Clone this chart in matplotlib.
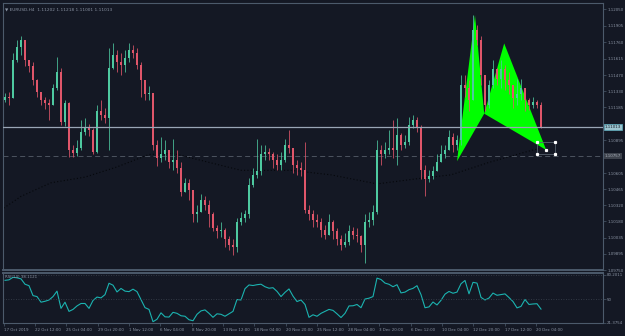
import numpy as np
import matplotlib
matplotlib.use("Agg")
import matplotlib.pyplot as plt
from matplotlib.patches import Polygon, Rectangle

# EURUSD H4 candles (each entry ~ two bars of the original)
closes = [1.1128, 1.1127, 1.1160, 1.1172, 1.1178, 1.1160, 1.1155, 1.1143, 1.1132, 1.1125,
          1.1122, 1.1121, 1.1136, 1.1150, 1.1106, 1.1122, 1.1081, 1.1078, 1.1083, 1.1097,
          1.1100, 1.1099, 1.1079, 1.1115, 1.1112, 1.1109, 1.1153, 1.1165, 1.1159, 1.1156,
          1.1162, 1.1169, 1.1167, 1.1156, 1.1143, 1.1130, 1.1131, 1.1085, 1.1074, 1.1077,
          1.1081, 1.1070, 1.1072, 1.1065, 1.1044, 1.1052, 1.1046, 1.1024, 1.1026, 1.1037,
          1.1032, 1.1024, 1.1012, 1.1009, 1.1010, 1.1002, 1.0997, 1.0995, 1.1017, 1.1021,
          1.1024, 1.1050, 1.1059, 1.1062, 1.1077, 1.1079, 1.1077, 1.1072, 1.1068, 1.1072,
          1.1085, 1.1083, 1.1068, 1.1065, 1.1063, 1.1028, 1.1024, 1.1019, 1.1017, 1.1010,
          1.1006, 1.1017, 1.1009, 1.1002, 1.0997, 1.1000, 1.1009, 1.1006, 1.1005, 1.0997,
          1.1017, 1.1019, 1.1026, 1.1081, 1.1077, 1.1081, 1.1083, 1.1081, 1.1094, 1.1085,
          1.1088, 1.1103, 1.1107, 1.1100, 1.1063, 1.1055, 1.1058, 1.1062, 1.1070, 1.1077,
          1.1081, 1.1092, 1.1085, 1.1090, 1.1138, 1.1136, 1.1125, 1.1187, 1.1178, 1.1147,
          1.1121, 1.1138, 1.1152, 1.1144, 1.1152, 1.1143, 1.1138, 1.1127, 1.1130, 1.1136,
          1.1125, 1.1121, 1.1123, 1.1121, 1.1101]
highs = [1.1131, 1.1132, 1.1167, 1.1178, 1.1182, 1.1174, 1.1160, 1.1159, 1.1144, 1.1132,
         1.1128, 1.1126, 1.1139, 1.1163, 1.1153, 1.1125, 1.1123, 1.1085, 1.1090, 1.1107,
         1.1109, 1.1104, 1.1100, 1.1121, 1.1125, 1.1118, 1.1171, 1.1175, 1.1169, 1.1167,
         1.1169, 1.1175, 1.1174, 1.1171, 1.1159, 1.1143, 1.1137, 1.1130, 1.1090, 1.1092,
         1.1090, 1.1081, 1.1091, 1.1081, 1.1070, 1.1056, 1.1055, 1.1037, 1.1032, 1.1042,
         1.1040, 1.1037, 1.1026, 1.1015, 1.1017, 1.1012, 1.1005, 1.1002, 1.1021, 1.1026,
         1.1028, 1.1056, 1.1065, 1.1091, 1.1085, 1.1085, 1.1083, 1.1079, 1.1077, 1.1079,
         1.1091, 1.1099, 1.1081, 1.1072, 1.1070, 1.1088, 1.1032, 1.1028, 1.1024, 1.1021,
         1.1015, 1.1024, 1.1019, 1.1012, 1.1006, 1.1008, 1.1015, 1.1013, 1.1012, 1.1006,
         1.1024, 1.1026, 1.1032, 1.1090, 1.1085, 1.1088, 1.1099, 1.1107, 1.1109, 1.1096,
         1.1094, 1.1110, 1.1112, 1.1110, 1.1103, 1.1068, 1.1063, 1.1067, 1.1077, 1.1085,
         1.1085, 1.1099, 1.1096, 1.1094, 1.1147, 1.1147, 1.1143, 1.1200, 1.1191, 1.1182,
         1.1147, 1.1143, 1.1160, 1.1153, 1.1160, 1.1156, 1.1150, 1.1138, 1.1144, 1.1144,
         1.1136, 1.1127, 1.1128, 1.1125, 1.1123]
lows = [1.1123, 1.1121, 1.1128, 1.1159, 1.1165, 1.1155, 1.1150, 1.1138, 1.1128, 1.1121,
        1.1117, 1.1107, 1.1121, 1.1134, 1.1103, 1.1102, 1.1075, 1.1075, 1.1076, 1.1081,
        1.1094, 1.1093, 1.1077, 1.1078, 1.1107, 1.1105, 1.1081, 1.1152, 1.1150, 1.1147,
        1.1150, 1.1159, 1.1162, 1.1152, 1.1128, 1.1125, 1.1125, 1.1081, 1.1067, 1.1070,
        1.1072, 1.1065, 1.1063, 1.1061, 1.1040, 1.1046, 1.1037, 1.1017, 1.1017, 1.1028,
        1.1028, 1.1013, 1.1009, 1.1003, 1.1004, 1.0995, 1.0993, 1.0988, 1.0991, 1.1015,
        1.1017, 1.1021, 1.1048, 1.1056, 1.1059, 1.1072, 1.1072, 1.1065, 1.1063, 1.1063,
        1.1070, 1.1078, 1.1061, 1.1059, 1.1058, 1.1025, 1.1019, 1.1013, 1.1013, 1.1004,
        1.1002, 1.1010, 1.1002, 1.0997, 1.0993, 1.0995, 1.0997, 1.1002, 1.1000, 1.0991,
        1.0981, 1.1013, 1.1015, 1.1024, 1.1068, 1.1074, 1.1077, 1.1074, 1.1068, 1.1081,
        1.1083, 1.1085, 1.1100, 1.1097, 1.1055, 1.1040, 1.1053, 1.1055, 1.1063, 1.1072,
        1.1074, 1.1085, 1.1079, 1.1081, 1.1085, 1.1128, 1.1115, 1.1125, 1.1174, 1.1138,
        1.1115, 1.1118, 1.1136, 1.1138, 1.1136, 1.1134, 1.1130, 1.1118, 1.1121, 1.1125,
        1.1115, 1.1116, 1.1118, 1.1118, 1.1100]
first_open = 1.1125

rsi = [73.5, 74.1, 77.2, 76.6, 75.3, 68.7, 66.9, 54.7, 53.5, 46.6,
       47.7, 49.3, 53.5, 60.2, 39.0, 46.6, 35.3, 37.7, 42.0, 45.0,
       45.0, 39.0, 48.7, 52.9, 51.9, 55.9, 69.9, 67.5, 59.2, 63.5,
       60.2, 59.6, 62.6, 59.6, 49.9, 39.9, 37.7, 22.6, 25.6, 33.5,
       28.6, 28.3, 34.1, 32.9, 29.9, 29.3, 25.0, 23.8, 31.7, 35.9,
       37.1, 32.9, 28.0, 32.3, 31.7, 29.3, 32.3, 35.3, 49.9, 49.3,
       63.2, 67.8, 67.1, 68.1, 68.7, 65.6, 63.8, 64.4, 59.9, 53.5,
       58.7, 62.9, 54.1, 47.4, 49.3, 43.8, 28.0, 31.1, 29.3, 32.9,
       35.3, 37.7, 36.5, 32.3, 27.7, 32.9, 42.0, 42.2, 43.8, 39.8,
       50.5, 51.5, 53.5, 76.2, 74.5, 70.1, 68.6, 65.6, 68.1, 58.0,
       59.0, 62.0, 63.6, 66.9, 55.9, 39.8, 40.8, 46.8, 43.2, 48.9,
       56.5, 59.8, 57.6, 59.0, 69.3, 73.3, 56.9, 71.0, 70.1, 52.5,
       49.3, 51.7, 57.8, 55.1, 55.9, 56.8, 52.3, 47.4, 39.6, 41.4,
       49.9, 43.8, 44.4, 44.7, 38.1]

# slow moving average (dotted), sampled along the chart
ma_idx = [-1, 4, 11.5, 20, 28, 36, 42, 51, 59, 71.5, 81.5, 93, 104, 111.5, 121, 126, 132, 133.5]
ma_val = [1.1028, 1.1040, 1.1052, 1.1057, 1.1066, 1.1077, 1.1078, 1.1070, 1.1063, 1.1063,
          1.1059, 1.1051, 1.1056, 1.1059, 1.1070, 1.1075, 1.1081, 1.1082]

# harmonic pattern X A B C D
pat_idx = [113, 117.5, 119.8, 124.8, 135.3]
pat_price = [1.1071, 1.1200, 1.1113, 1.1175, 1.1081]

price_ticks = [1.09750, 1.09895, 1.10035, 1.10180, 1.10320, 1.10465, 1.10605,
               1.10895, 1.11185, 1.11330, 1.11470, 1.11615, 1.11760, 1.11905, 1.12050]
date_labels = ["17 Oct 2019", "22 Oct 12:00", "25 Oct 04:00", "29 Oct 20:00", "1 Nov 12:00",
               "6 Nov 04:00", "8 Nov 20:00", "13 Nov 12:00", "18 Nov 04:00", "20 Nov 20:00",
               "25 Nov 12:00", "28 Nov 04:00", "3 Dec 20:00", "6 Dec 12:00", "10 Dec 04:00",
               "12 Dec 20:00", "17 Dec 12:00", "20 Dec 04:00"]
last_price = 1.11013
level_price = 1.10757

BG = "#141824"
GRID = "#4c5a6b"
TXT = "#8a93a3"
BULL = "#4ec9a0"
BEAR = "#e0566a"
FS = 2.9

fig = plt.figure(figsize=(6.25, 3.36), dpi=100, facecolor=BG)
ax = fig.add_axes([3 / 625, 66 / 336, 600 / 625, 267 / 336], facecolor=BG)
ax2 = fig.add_axes([3 / 625, 13 / 336, 600 / 625, 50 / 336], facecolor=BG, sharex=ax)

n = len(closes)
x = np.arange(n)
opens = [first_open] + closes[:-1]
cols = [BULL if c >= o else BEAR for o, c in zip(opens, closes)]
top = np.maximum(np.maximum(opens, closes), highs)
bot = np.minimum(np.minimum(opens, closes), lows)
ax.vlines(x, bot, top, colors=cols, lw=0.55, zorder=3)
body_lo = np.minimum(opens, closes)
body_h = np.maximum(np.abs(np.array(closes) - np.array(opens)), 0.00004)
ax.bar(x, body_h, bottom=body_lo, width=0.4, color=cols, linewidth=0, zorder=3)

# harmonic pattern
X, A, B, C, D = list(zip(pat_idx, pat_price))
ax.add_patch(Polygon([X, A, B], closed=True, facecolor="#00ff00", edgecolor="none", zorder=2))
ax.add_patch(Polygon([B, C, D], closed=True, facecolor="#00ff00", edgecolor="none", zorder=2))
ax.add_patch(Rectangle((133, 1.1077), 4.5, 0.0011, fill=False, edgecolor="#56606c", lw=0.6, zorder=4))
for px, py in [(133, 1.1077), (137.5, 1.1077), (133, 1.1088), (137.5, 1.1088), D]:
    ax.plot(px, py, "s", ms=1.3, color="white", zorder=5)

ax.plot(ma_idx, ma_val, ls=(0, (1, 2)), color="#05070b", lw=0.8, zorder=2.5)
ax.axhline(last_price, color="#9aa6b6", lw=0.9, zorder=3.5)
ax.axhline(level_price, color="#555d69", lw=0.6, ls=(0, (6, 4)), zorder=1.5)

xlim = (-0.5, 149.5)
ax.set_xlim(*xlim)
ax.set_ylim(1.09752, 1.12107)
ax.yaxis.tick_right()
ax.set_yticks(price_ticks)
ax.set_yticklabels(["%.5f" % p for p in price_ticks])
ax.tick_params(axis="y", colors=GRID, labelcolor=TXT, labelsize=FS, length=2, width=0.5, pad=1)
ax.tick_params(axis="x", bottom=False, labelbottom=False)
for s in ax.spines.values():
    s.set_color(GRID)
    s.set_linewidth(0.8)
ax.spines["bottom"].set_linewidth(1.4)

ax.text(0.003, 0.985, "\u25bc EURUSD,H4  1.11202 1.11218 1.11001 1.11013", transform=ax.transAxes,
        fontsize=3.1, color=TXT, va="top", ha="left")
ybox = ax.get_yaxis_transform()
ax.text(1.003, last_price, "%.5f" % last_price, transform=ybox, fontsize=FS, color="#141824",
        va="center", ha="left", zorder=10, clip_on=False,
        bbox=dict(boxstyle="square,pad=0.2", fc="#9cc4cf", ec="#5fb0c0", lw=0.5))
ax.text(1.003, level_price, "%.5f" % level_price, transform=ybox, fontsize=FS, color="#aab0ba",
        va="center", ha="left", zorder=10, clip_on=False,
        bbox=dict(boxstyle="square,pad=0.2", fc="#3e434d", ec="none"))

# RSI panel
ax2.plot(x, rsi, color="#1bb3b0", lw=0.8)
ax2.axhline(50, color="#3c4450", lw=0.6, ls=(0, (1, 2)))
ax2.axhline(80, color="#3c4450", lw=0.6, ls=(0, (1, 2)))
ax2.set_ylim(21.0, 82.5)
ax2.yaxis.tick_right()
ax2.set_yticks([21.3754, 50, 80.2011])
ax2.set_yticklabels(["21.3754", "50", "80.2011"])
ax2.tick_params(axis="y", colors=GRID, labelcolor=TXT, labelsize=FS, length=2, width=0.5, pad=1)
ax2.text(0.003, 0.97, "RSI(14) 38.1121", transform=ax2.transAxes, fontsize=FS, color=TXT,
         va="top", ha="left")
for s in ax2.spines.values():
    s.set_color(GRID)
    s.set_linewidth(0.8)
ax2.spines["top"].set_linewidth(1.4)

tick_pos = np.arange(len(date_labels)) * 7.825 - 0.3
ax2.set_xticks(tick_pos)
ax2.set_xticklabels(date_labels, ha="left")
ax2.tick_params(axis="x", colors=GRID, labelcolor=TXT, labelsize=FS, length=2, width=0.5, pad=1.5)
ax2.set_xlim(*xlim)

fig.savefig("out.png", dpi=100, facecolor=BG)
